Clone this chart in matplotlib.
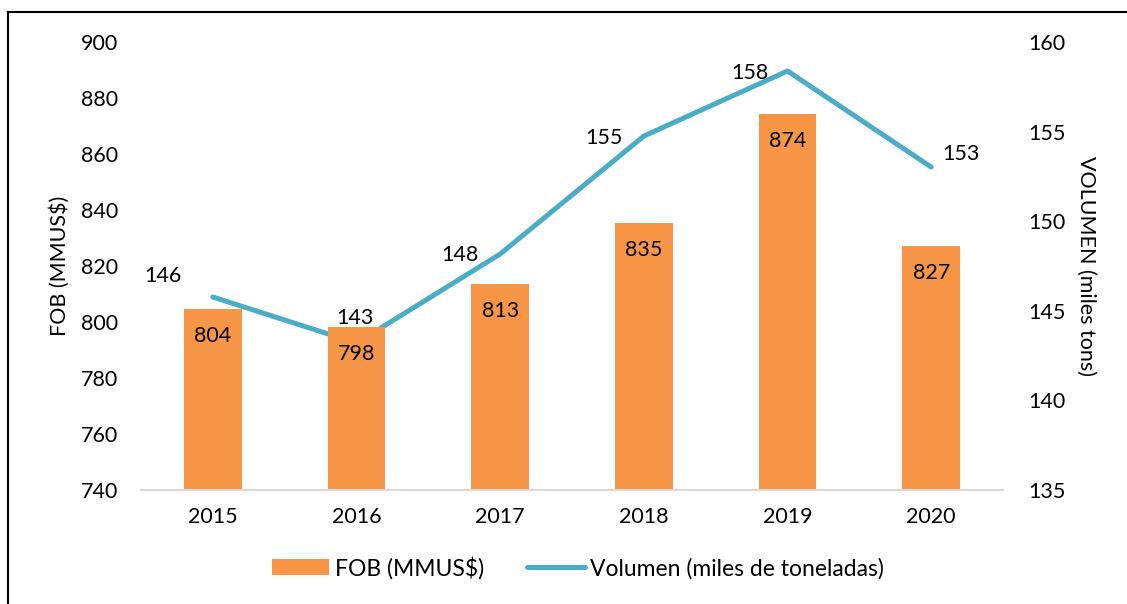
import matplotlib.pyplot as plt
from matplotlib.lines import Line2D

plt.rcParams['font.family'] = ['Lato', 'DejaVu Sans']

years = ['2015', '2016', '2017', '2018', '2019', '2020']
fob = [804.5, 798.2, 813.4, 835.2, 874.3, 827.0]
fob_labels = ['804', '798', '813', '835', '874', '827']
volumen = [145.77, 143.2, 148.17, 154.75, 158.38, 153.02]
vol_labels = ['146', '143', '148', '155', '158', '153']

orange = '#F79646'
teal = '#4BACC6'
fs = 15.5

fig = plt.figure(figsize=(11.27, 6.04), dpi=100)
ax = fig.add_axes([0.1251, 0.1887, 0.7649, 0.7418])
ax2 = ax.twinx()

x = list(range(len(years)))
bars = ax.bar(x, fob, width=0.4, color=orange, zorder=2, label='FOB (MMUS$)')
ax.set_ylim(740, 900)
ax.set_xlim(-0.5, 5.5)
ax.set_yticks(range(740, 901, 20))
ax.set_xticks(x)
ax.set_xticklabels(years)

for xi, v, lab in zip(x, fob, fob_labels):
    ax.annotate(lab, (xi, v), xytext=(0, -27), textcoords='offset pixels',
                ha='center', va='center', fontsize=fs, color='black', zorder=5)

ax2.plot(x, volumen, color=teal, lw=3.6, solid_capstyle='round', zorder=3)
ax2.set_ylim(135, 160)
ax2.set_yticks(range(135, 161, 5))

offsets = [(-50, 21), (-2, 25), (-40, -1), (-40, -2), (-38, -2), (30, 13)]
for xi, v, lab, off in zip(x, volumen, vol_labels, offsets):
    ax2.annotate(lab, (xi, v), xytext=off, textcoords='offset pixels',
                 ha='center', va='center', fontsize=fs, color='black')

ax.set_zorder(ax2.get_zorder() + 1)
ax.patch.set_visible(False)
for a in (ax, ax2):
    for s in ('top', 'left', 'right', 'bottom'):
        a.spines[s].set_visible(False)
    a.tick_params(length=0, labelsize=fs, colors='black')
ax.spines['bottom'].set_visible(True)
ax.spines['bottom'].set_color('#D9D9D9')
ax.spines['bottom'].set_linewidth(1.5)
ax.tick_params(axis='y', pad=16.5)
ax.tick_params(axis='x', pad=12)
ax2.tick_params(axis='y', pad=18)

ax.set_ylabel('FOB (MMUS$)', fontsize=fs, va='center')
ax.yaxis.set_label_coords(-0.094, 0.5)
ax2.set_ylabel('VOLUMEN (miles tons)', fontsize=fs, rotation=270, va='center')
ax2.yaxis.set_label_coords(1.0963, 0.5)

handles = [bars, Line2D([], [], color=teal, lw=3.6, solid_capstyle='round')]
fig.legend(handles, ['FOB (MMUS$)', 'Volumen (miles de toneladas)'],
           loc='center', bbox_to_anchor=(578 / 1127, 0.06), ncol=2, frameon=False,
           fontsize=16.5, handlelength=2.5, handletextpad=0.25, columnspacing=1.9)

# outer frame (cut off at right and bottom edges)
fig.add_artist(Line2D([8 / 1127, 8 / 1127], [0, 1 - 12 / 604], color='black', lw=1.5,
                      transform=fig.transFigure))
fig.add_artist(Line2D([8 / 1127, 1], [1 - 12 / 604, 1 - 12 / 604], color='black', lw=1.5,
                      transform=fig.transFigure))

fig.savefig('out.png', dpi=100)
